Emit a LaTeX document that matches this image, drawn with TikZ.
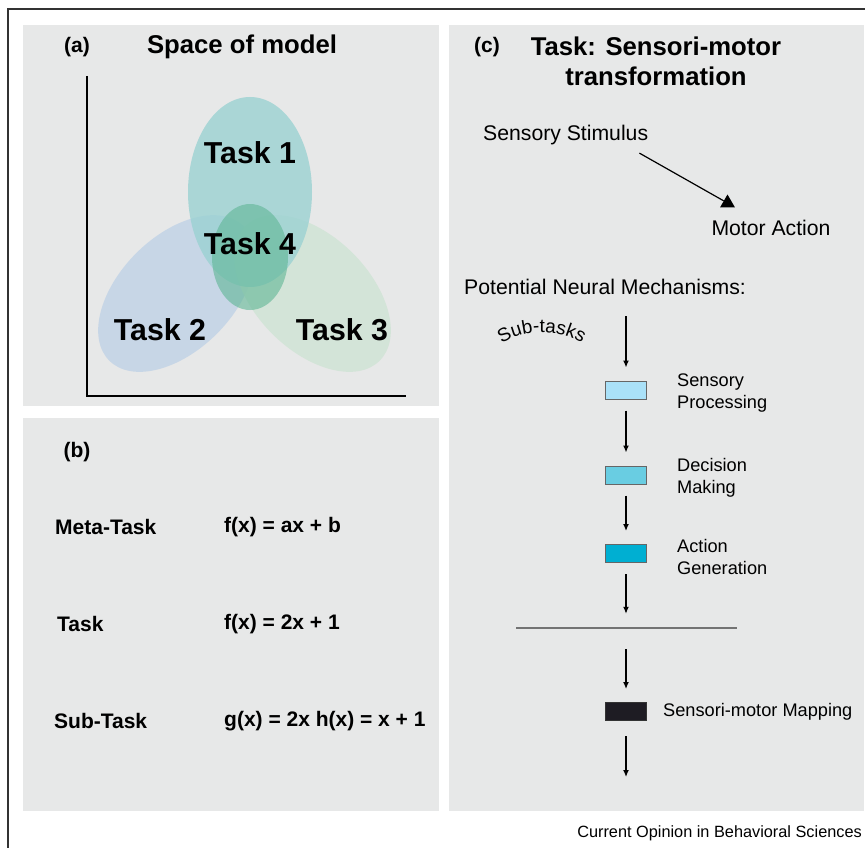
\documentclass[tikz,border=0pt]{standalone}
\usepackage{fontspec}
\setmainfont{Liberation Sans}
\usetikzlibrary{positioning,arrows.meta,shapes.geometric,decorations.text}

\definecolor{panelgray}{RGB}{231,232,232}
\definecolor{taskone}{RGB}{155,210,210}
\definecolor{tasktwo}{RGB}{192,210,230}
\definecolor{taskthree}{RGB}{207,227,212}
\definecolor{taskfour}{RGB}{95,182,149}
\definecolor{boxone}{RGB}{170,225,248}
\definecolor{boxtwo}{RGB}{105,205,226}
\definecolor{boxthree}{RGB}{0,175,210}
\definecolor{boxfour}{RGB}{30,28,35}
\newcommand{\subtaskfont}{\fontsize{19}{19}\selectfont}

\begin{document}
\begin{tikzpicture}[x=1pt,y=1pt,
    panel/.style={fill=panelgray},
    tag/.style={font=\fontsize{21}{23}\selectfont\bfseries, inner sep=0pt},
    head/.style={font=\fontsize{25.7}{30}\selectfont\bfseries, inner sep=0pt, align=center},
    blob/.style={font=\fontsize{30.3}{31}\selectfont\bfseries, inner sep=0pt},
    txt/.style={font=\fontsize{21.2}{23}\selectfont, inner sep=0pt, align=left},
    small/.style={font=\fontsize{18.2}{22}\selectfont, inner sep=0pt, align=left, yshift=-3pt},
    stage/.style={draw=black!60, line width=1pt, minimum width=41pt, minimum height=18pt, inner sep=0pt},
    flow/.style={-{Latex[length=7pt,width=6pt]}, line width=1.3pt, shorten <=11pt, shorten >=13pt}]
  \useasboundingbox (0,0) rectangle (865,-848);

  % frame
  \draw[line width=2pt, black!80] (7.5,-848) -- (7.5,-9.5) -- (865,-9.5);

  % panels
  \fill[panel] (23,-25) rectangle (439,-406);
  \fill[panel] (23,-418) rectangle (439,-811);
  \fill[panel] (449,-25) rectangle (864,-811);

  % (a)
  \node[tag] (a) at (77,-47) {(a)};
  \node[head] (atitle) at (242,-47) {Space of model};
  \draw[line width=1.5pt] (87,-76) -- (87,-396) -- (406,-396);

  \fill[tasktwo, fill opacity=.8, shift={(176.5,-293.5)}, rotate=45] (0,0) ellipse [x radius=95, y radius=57];
  \fill[taskthree, fill opacity=.8, shift={(312.5,-293.5)}, rotate=-45] (0,0) ellipse [x radius=95, y radius=57];
  \fill[taskone, fill opacity=.8] (250,-192) ellipse [x radius=62, y radius=95];
  \fill[taskfour, fill opacity=.6] (250,-257) ellipse [x radius=38, y radius=53];

  \node[blob] (t1) at (250,-153) {Task 1};
  \node[blob] (t4) at (250,-244) {Task 4};
  \node[blob] (t2) at (160,-330) {Task 2};
  \node[blob] (t3) at (342,-330) {Task 3};

  % (b)
  \node[tag] (b) at (77,-452) {(b)};
  \node[tag, anchor=west] (meta) at (55,-527) {Meta-Task};
  \node[tag, anchor=west] (task) at (57,-624) {Task};
  \node[tag, anchor=west] (sub) at (54,-721) {Sub-Task};
  \node[tag, anchor=west] (fmeta) at (224,-527) {f(x) = ax + b};
  \node[tag, anchor=west] (ftask) at (224,-624) {f(x) = 2x + 1};
  \node[tag, anchor=west] (fsub) at (224,-721) {g(x) = 2x h(x) = x + 1};

  % (c)
  \node[tag] (c) at (487,-47) {(c)};
  \node[head] (ctitle) at (656,-61) {Task: Sensori-motor\\transformation};

  \node[txt, anchor=west] (stim) at (483,-135) {Sensory Stimulus};
  \node[txt] (motor) at (771,-228) {Motor Action};
  \node[regular polygon, regular polygon sides=3, fill=black, minimum size=17pt, inner sep=0pt] (tip) at (727.5,-203) {};
  \draw[line width=1.2pt] ([xshift=-9pt,yshift=-8pt]stim.south east) -- (tip);

  \node[txt, anchor=west] (pnm) at (464,-287) {Potential Neural Mechanisms:};
  \coordinate (top) at (626,-305);
  \path[decorate, decoration={text along path, text align=center,
      text={|\subtaskfont|Sub-tasks}}]
    (496,-348) .. controls (520,-327) and (562,-327) .. (588,-347);

  \node[stage, fill=boxone] (sp) at (626,-390) {};
  \node[stage, fill=boxtwo] (dm) at (626,-475) {};
  \node[stage, fill=boxthree] (ag) at (626,-553.5) {};
  \node[minimum width=221pt, minimum height=2pt, inner sep=0pt, fill=black!55] (split) at (626,-628) {};
  \node[stage, fill=boxfour, draw=black!80] (smm) at (626,-711.5) {};
  \coordinate (bot) at (626,-777);

  \node[small, right=30pt of sp] (sptxt) {Sensory\\Processing};
  \node[small, right=30pt of dm] (dmtxt) {Decision\\Making};
  \node[small, right=30pt of ag] (agtxt) {Action\\Generation};
  \node[small, yshift=3pt, right=16pt of smm] (smmtxt) {Sensori-motor Mapping};

  \draw[flow] (top) -- (sp);
  \draw[flow] (sp) -- (dm);
  \draw[flow] (dm) -- (ag);
  \draw[flow] (ag) -- (split);
  \draw[flow, shorten <=20pt] (split) -- (smm);
  \draw[flow, shorten >=0pt, shorten <=15pt] (smm) -- (bot);

  \node[font=\fontsize{16.3}{18}\selectfont, inner sep=0pt, anchor=east] (src) at (862,-833) {Current Opinion in Behavioral Sciences};
\end{tikzpicture}
\end{document}
